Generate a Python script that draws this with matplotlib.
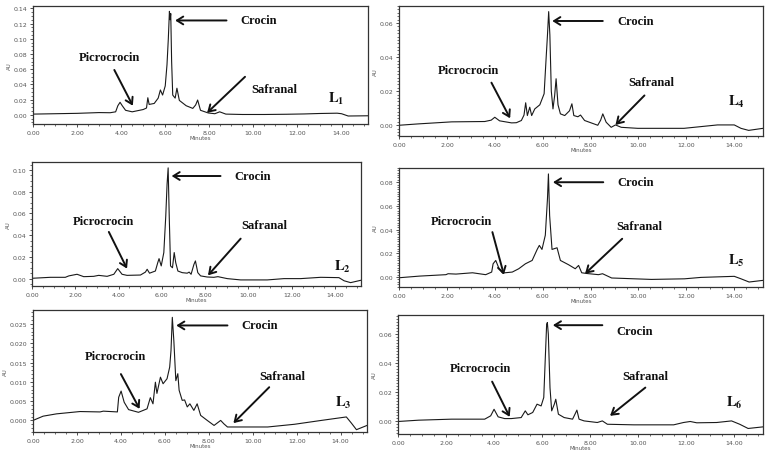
import matplotlib
matplotlib.use('Agg')
import matplotlib.pyplot as plt
from matplotlib.ticker import MultipleLocator, FormatStrFormatter

# ---------------- data (retention time in minutes, absorbance in AU) ----------------
x_ticks = [0, 2, 4, 6, 8, 10, 12, 14]

l1_t = [0.0, 1.0, 2.0, 3.0, 3.5, 3.75, 3.85, 3.95, 4.05, 4.2, 4.5, 5.0, 5.15, 5.21, 5.27, 5.5, 5.68, 5.78, 5.88, 6.0,
        6.08, 6.14, 6.19, 6.22, 6.25, 6.29, 6.34, 6.45, 6.53, 6.64, 6.95, 7.25, 7.38, 7.47, 7.6, 7.95, 8.25, 8.47, 8.75,
        9.5, 10.5, 11.5, 12.3, 13.0, 13.8, 14.0, 14.3, 15.2]
l1_au = [0.001, 0.0015, 0.002, 0.003, 0.0028, 0.004, 0.012, 0.0165, 0.012, 0.006, 0.004, 0.007, 0.009, 0.0225, 0.0137,
         0.015, 0.022, 0.0327, 0.026, 0.038, 0.066, 0.100, 0.136, 0.125, 0.133, 0.07, 0.026, 0.022, 0.035, 0.019, 0.012,
         0.0085, 0.013, 0.0195, 0.006, 0.0025, 0.0015, 0.004, 0.001, 0.0005, 0.0005, 0.0008, 0.0012, 0.0018, 0.0022,
         0.0015, -0.0015, -0.0012]
l1_yticks = [0.00, 0.02, 0.04, 0.06, 0.08, 0.10, 0.12, 0.14]

l4_t = [0.0, 0.8, 2.2, 3.58, 3.85, 4.0, 4.2, 4.7, 4.9, 5.11, 5.22, 5.29, 5.36, 5.46, 5.54, 5.67, 5.88, 6.06, 6.15, 6.2,
        6.25, 6.3, 6.36, 6.43, 6.5, 6.56, 6.64, 6.74, 6.92, 7.12, 7.22, 7.3, 7.47, 7.58, 7.75, 8.3, 8.42, 8.51, 8.65,
        8.86, 9.04, 9.28, 9.97, 11.9, 12.6, 13.3, 14.0, 14.28, 14.6, 15.2]
l4_au = [0.0, 0.0008, 0.002, 0.0022, 0.003, 0.0047, 0.0026, 0.0014, 0.0015, 0.0028, 0.006, 0.0132, 0.0057, 0.0106,
         0.0057, 0.0096, 0.012, 0.0185, 0.041, 0.053, 0.0667, 0.053, 0.02, 0.0096, 0.0175, 0.0273, 0.012, 0.0067,
         0.0057, 0.0085, 0.0126, 0.0057, 0.005, 0.006, 0.0028, 0.0, 0.003, 0.0067, 0.0018, -0.0012, 0.0002, -0.0012,
         -0.0018, -0.0018, -0.0008, 0.0002, 0.0002, -0.0018, -0.003, -0.0018]
l4_yticks = [0.00, 0.02, 0.04, 0.06]

l2_t = [0.0, 0.85, 1.54, 1.7, 2.08, 2.39, 2.85, 3.08, 3.47, 3.78, 3.96, 4.16, 4.39, 5.01, 5.24, 5.32, 5.43, 5.7, 5.81,
        5.87, 5.97, 6.09, 6.18, 6.24, 6.29, 6.34, 6.4, 6.49, 6.57, 6.64, 6.74, 6.94, 7.17, 7.26, 7.35, 7.48, 7.55, 7.66,
        7.79, 8.09, 8.4, 8.59, 9.02, 9.64, 10.87, 11.64, 12.41, 13.34, 14.18, 14.42, 14.72, 15.2]
l2_au = [0.0003, 0.0012, 0.0012, 0.0025, 0.004, 0.0018, 0.0021, 0.003, 0.0021, 0.004, 0.0092, 0.004, 0.003, 0.0033,
         0.006, 0.0086, 0.005, 0.007, 0.0147, 0.0184, 0.0117, 0.024, 0.0577, 0.0868, 0.102, 0.0577, 0.0117, 0.010,
         0.024, 0.0147, 0.007, 0.0055, 0.005, 0.006, 0.004, 0.013, 0.0163, 0.0055, 0.0025, 0.0015, 0.0012, 0.0018, 0.0,
         -0.0012, -0.0012, 0.0, 0.0, 0.0012, 0.0009, -0.002, -0.0037, -0.0015]
l2_yticks = [0.00, 0.02, 0.04, 0.06, 0.08, 0.10]

l5_t = [0.0, 0.86, 1.96, 2.05, 2.38, 3.07, 3.62, 3.87, 3.93, 4.04, 4.18, 4.32, 4.73, 5.0, 5.28, 5.56, 5.77, 5.86, 5.97,
        6.11, 6.2, 6.24, 6.29, 6.39, 6.6, 6.74, 7.08, 7.36, 7.5, 7.63, 7.84, 8.33, 8.5, 8.88, 10.54, 11.92, 12.61, 14.0,
        14.27, 14.62, 15.2]
l5_au = [-0.0006, 0.0008, 0.002, 0.0028, 0.0025, 0.0036, 0.002, 0.0042, 0.0112, 0.014, 0.007, 0.0034, 0.0042, 0.007,
         0.0112, 0.014, 0.0233, 0.0267, 0.0233, 0.0353, 0.0662, 0.087, 0.0519, 0.0233, 0.0247, 0.014, 0.0104, 0.007,
         0.0098, 0.0036, 0.003, 0.002, 0.0028, -0.0008, -0.002, -0.0015, -0.0003, 0.0006, -0.0014, -0.0042, -0.0028]
l5_yticks = [0.00, 0.02, 0.04, 0.06, 0.08]

l3_t = [0.0, 0.46, 1.07, 2.14, 3.05, 3.2, 3.84, 3.9, 4.01, 4.15, 4.35, 4.8, 5.19, 5.34, 5.46, 5.57, 5.64, 5.8, 5.92,
        6.1, 6.22, 6.28, 6.34, 6.41, 6.5, 6.59, 6.65, 6.79, 6.9, 7.02, 7.14, 7.32, 7.47, 7.63, 7.93, 8.24, 8.54, 8.69,
        8.85, 10.68, 11.9, 13.12, 14.26, 14.49, 14.72, 15.2]
l3_au = [0.0, 0.0011, 0.0017, 0.0023, 0.0022, 0.0024, 0.0022, 0.006, 0.0076, 0.0047, 0.0028, 0.0021, 0.003, 0.0059,
         0.0043, 0.0099, 0.007, 0.0112, 0.0095, 0.0108, 0.0138, 0.0181, 0.0267, 0.0206, 0.0103, 0.0121, 0.0078, 0.0052,
         0.0053, 0.0035, 0.0043, 0.0026, 0.0043, 0.0013, 0.0, -0.0013, 0.0, -0.0009, -0.0017, -0.0017, -0.001, 0.0,
         0.0009, -0.0007, -0.0024, -0.0013]
l3_yticks = [0.000, 0.005, 0.010, 0.015, 0.020, 0.025]

l6_t = [0.0, 0.86, 2.23, 3.61, 3.86, 4.0, 4.17, 4.44, 4.72, 5.13, 5.3, 5.41, 5.61, 5.79, 5.96, 6.07, 6.14, 6.19, 6.22,
        6.26, 6.33, 6.4, 6.51, 6.57, 6.68, 6.92, 7.27, 7.37, 7.45, 7.54, 7.75, 8.3, 8.51, 8.72, 9.82, 11.48, 11.89,
        12.17, 12.44, 13.27, 13.89, 14.23, 14.58, 15.2]
l6_au = [-0.0002, 0.0007, 0.0014, 0.0014, 0.0037, 0.0082, 0.003, 0.0018, 0.0018, 0.0025, 0.0071, 0.0044, 0.006, 0.0117,
         0.0105, 0.0163, 0.046, 0.0666, 0.0678, 0.0598, 0.023, 0.0071, 0.0117, 0.0151, 0.0048, 0.0025, 0.0014, 0.0048,
         0.0076, 0.0014, 0.0002, -0.0009, 0.0002, -0.0021, -0.0025, -0.0025, -0.0009, -0.0002, -0.0011, -0.0009,
         0.0002, -0.0021, -0.005, -0.0039]
l6_yticks = [0.00, 0.02, 0.04, 0.06]

sample_labels = ['1', '4', '2', '5', '3', '6']

# ---------------- layout / styling ----------------
W, H = 770, 460


def px(l, t, r, b):
    return [l / W, 1 - b / H, (r - l) / W, (b - t) / H]


# each: data, rect, ylim, y format, minor step,
# crocin (text_x, text_y, tail_x, tip_x, arrow_y), picro (text_x, text_y, tail, tip), safranal (...), L label pos
panels = [
    dict(t=l1_t, au=l1_au, yt=l1_yticks, lab=sample_labels[0], rect=px(33, 7, 368, 125), ylim=(-0.012, 0.143),
         fmt='%.2f', minor=0.005,
         cro=(9.39, 0.124, 8.78, 6.45, 0.124), pic=(2.07, 0.0755, (3.69, 0.059), (4.53, 0.012)),
         saf=(9.92, 0.034, (9.62, 0.050), (7.9, 0.0027)), L=(13.4, 0.022)),
    dict(t=l4_t, au=l4_au, yt=l4_yticks, lab=sample_labels[1], rect=px(399, 7, 763, 137), ylim=(-0.0063, 0.070),
         fmt='%.2f', minor=0.002,
         cro=(9.11, 0.0612, 8.51, 6.4, 0.0612), pic=(1.64, 0.0323, (3.86, 0.025), (4.64, 0.0041)),
         saf=(9.56, 0.0254, (10.25, 0.0175), (9.04, 0.0002)), L=(13.72, 0.0145)),
    dict(t=l2_t, au=l2_au, yt=l2_yticks, lab=sample_labels[2], rect=px(32, 163, 361, 287), ylim=(-0.0068, 0.1074),
         fmt='%.2f', minor=0.005,
         cro=(9.33, 0.0945, 8.71, 6.45, 0.0945), pic=(1.9, 0.053, (3.55, 0.043), (4.39, 0.0092)),
         saf=(9.67, 0.049, (9.64, 0.0368), (8.13, 0.003)), L=(13.95, 0.012)),
    dict(t=l5_t, au=l5_au, yt=l5_yticks, lab=sample_labels[3], rect=px(399, 169, 763, 288), ylim=(-0.0084, 0.092),
         fmt='%.2f', minor=0.002,
         cro=(9.13, 0.080, 8.53, 6.43, 0.080), pic=(1.34, 0.0477, (3.9, 0.0379), (4.38, 0.002)),
         saf=(9.09, 0.043, (9.32, 0.0323), (7.77, 0.0028)), L=(13.72, 0.0145)),
    dict(t=l3_t, au=l3_au, yt=l3_yticks, lab=sample_labels[4], rect=px(33, 311, 367, 433), ylim=(-0.003, 0.0286),
         fmt='%.3f', minor=0.001,
         cro=(9.49, 0.0246, 8.85, 6.52, 0.0246), pic=(2.36, 0.0166, (4.0, 0.012), (4.85, 0.003)),
         saf=(10.3, 0.0116, (10.75, 0.0086), (9.12, -0.0007)), L=(13.73, 0.0048)),
    dict(t=l6_t, au=l6_au, yt=l6_yticks, lab=sample_labels[5], rect=px(398, 316, 763, 435), ylim=(-0.0088, 0.073),
         fmt='%.2f', minor=0.002,
         cro=(9.1, 0.062, 8.51, 6.45, 0.066), pic=(2.17, 0.0364, (3.92, 0.0272), (4.65, 0.003)),
         saf=(9.34, 0.0311, (10.3, 0.0231), (8.83, 0.0037)), L=(13.68, 0.013)),
]

plt.rcParams['mathtext.fontset'] = 'stix'
fig = plt.figure(figsize=(W / 100, H / 100), dpi=100)
fig.patch.set_facecolor('white')

serif = 'Liberation Serif'
tick_col = '#555555'
arrow_kw = dict(arrowstyle='->,head_length=0.45,head_width=0.28', lw=1.4, color='#111111',
                shrinkA=0, shrinkB=0)

for p in panels:
    ax = fig.add_axes(p['rect'])
    ax.plot(p['t'], p['au'], color='#1a1a1a', lw=0.8)
    ax.set_xlim(0, 15.2)
    ax.set_ylim(*p['ylim'])
    ax.set_xticks(x_ticks)
    ax.set_xticklabels(['%.2f' % v for v in x_ticks])
    ax.xaxis.set_minor_locator(MultipleLocator(0.5))
    ax.set_yticks(p['yt'])
    ax.yaxis.set_major_formatter(FormatStrFormatter(p['fmt']))
    ax.yaxis.set_minor_locator(MultipleLocator(p['minor']))
    ax.tick_params(which='major', direction='out', length=2.5, width=0.6, labelsize=4.5,
                   labelcolor=tick_col, pad=1.5, color='#333333')
    ax.tick_params(which='minor', direction='out', length=1.3, width=0.5, color='#333333')
    for s in ax.spines.values():
        s.set_linewidth(0.9)
        s.set_color('#333333')
    ax.set_xlabel('Minutes', fontsize=4, color=tick_col, labelpad=0.5)
    ax.set_ylabel('AU', fontsize=4, color=tick_col, labelpad=1.5)

    cx, cy, tail, tip, ay = p['cro']
    ax.annotate('', xy=(tip, ay), xytext=(tail, ay), arrowprops=arrow_kw)
    ax.text(cx, cy, 'Crocin', family=serif, weight='bold', fontsize=9, va='center', ha='left', color='#111111')

    tx, ty, a0, a1 = p['pic']
    ax.annotate('', xy=a1, xytext=a0, arrowprops=arrow_kw)
    ax.text(tx, ty, 'Picrocrocin', family=serif, weight='bold', fontsize=9, va='center', ha='left', color='#111111')

    tx, ty, a0, a1 = p['saf']
    ax.annotate('', xy=a1, xytext=a0, arrowprops=arrow_kw)
    ax.text(tx, ty, 'Safranal', family=serif, weight='bold', fontsize=9, va='center', ha='left', color='#111111')

    lx, ly = p['L']
    ax.text(lx, ly, r'$\mathbf{L}_{\mathbf{%s}}$' % p['lab'], fontsize=10.5, va='center', ha='left',
            color='#111111')

fig.savefig('out.png', dpi=100, facecolor='white')
